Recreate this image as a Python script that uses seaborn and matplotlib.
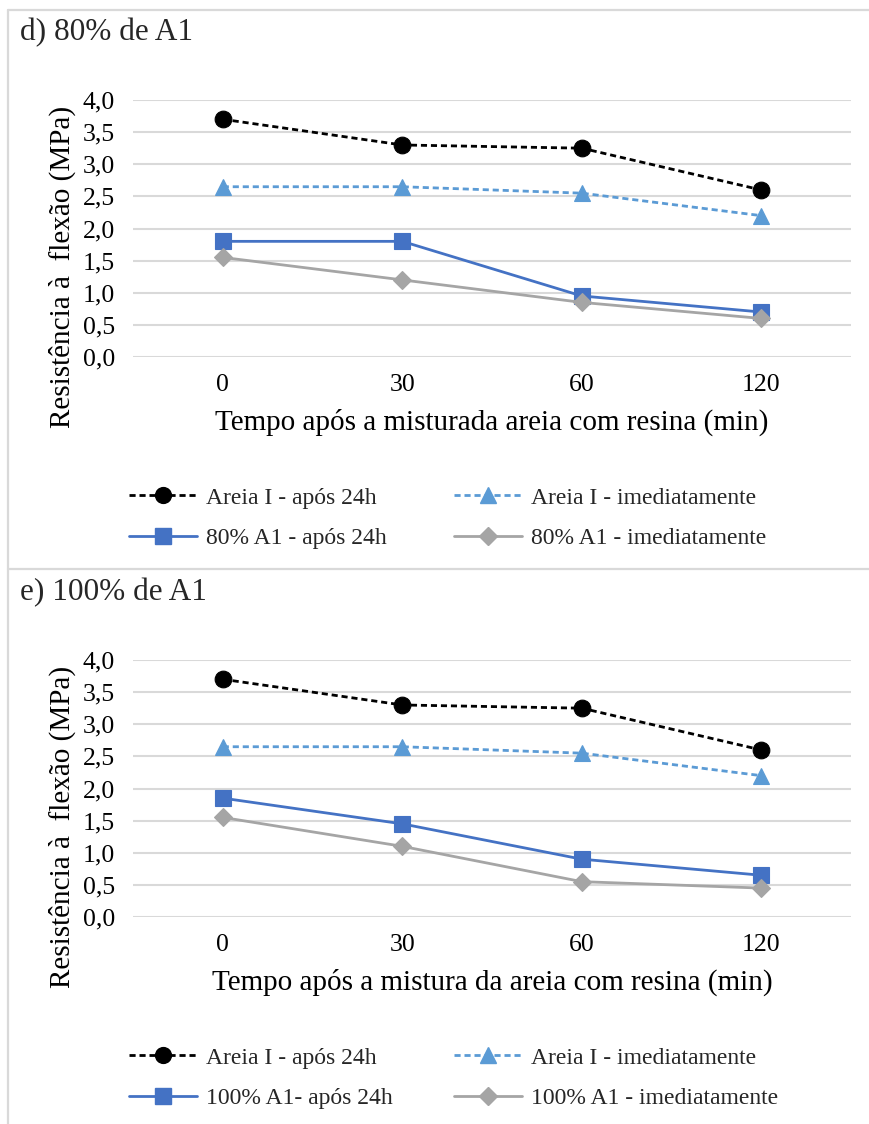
import matplotlib
matplotlib.use("Agg")
import matplotlib.pyplot as plt
import seaborn as sns
import pandas as pd
from matplotlib.lines import Line2D

sns.set_theme(style="white")
plt.rcParams['font.family'] = ['Liberation Serif', 'DejaVu Serif']

# ---- data ----
tempos = ["0", "30", "60", "120"]
areia_24h = [3.7, 3.3, 3.25, 2.6]
areia_imed = [2.65, 2.65, 2.55, 2.2]
a80_24h = [1.8, 1.8, 0.95, 0.7]
a80_imed = [1.55, 1.2, 0.85, 0.6]
a100_24h = [1.85, 1.45, 0.9, 0.65]
a100_imed = [1.55, 1.1, 0.55, 0.45]
yticks = [0.0, 0.5, 1.0, 1.5, 2.0, 2.5, 3.0, 3.5, 4.0]

panels = [
    dict(title="d) 80% de A1",
         xlabel="Tempo após a misturada areia com resina (min)",
         series=[("Areia I - após 24h", areia_24h),
                 ("Areia I - imediatamente", areia_imed),
                 ("80% A1 - após 24h", a80_24h),
                 ("80% A1 - imediatamente", a80_imed)],
         off=0),
    dict(title="e) 100% de A1",
         xlabel="Tempo após a mistura da areia com resina (min)",
         series=[("Areia I - após 24h", areia_24h),
                 ("Areia I - imediatamente", areia_imed),
                 ("100% A1- após 24h", a100_24h),
                 ("100% A1 - imediatamente", a100_imed)],
         off=560),
]

styles = [
    dict(color="black", marker="o", ls=(0, (2.2, 1.4)), ms=12),
    dict(color="#5B9BD5", marker="^", ls=(0, (2.2, 1.4)), ms=11.5),
    dict(color="#4472C4", marker="s", ls="-", ms=12),
    dict(color="#A5A5A5", marker="D", ls="-", ms=9.5),
]

W, H = 869, 1124
fig = plt.figure(figsize=(W / 100, H / 100), dpi=100)

def fx(px):
    return px / W

def fy(py):
    return 1 - py / H

# panel borders
border_col = "#D9D9D9"
fig.add_artist(Line2D([fx(8), fx(8)], [fy(10), fy(1124)], color=border_col, lw=1.6))
fig.add_artist(Line2D([fx(8), 1], [fy(10), fy(10)], color=border_col, lw=1.6))
fig.add_artist(Line2D([fx(8), 1], [fy(569), fy(569)], color=border_col, lw=1.6))

for p in panels:
    off = p["off"]
    top, bot = 100 + off, 357 + off
    ax = fig.add_axes([fx(133), fy(bot), fx(851) - fx(133), (bot - top) / H])
    handles = []
    for (name, vals), st in zip(p["series"], styles):
        df = pd.DataFrame({"Tempo": tempos, "Valor": vals})
        sns.lineplot(data=df, x="Tempo", y="Valor", ax=ax, color=st["color"],
                     marker=st["marker"], markersize=st["ms"], linewidth=2.0,
                     linestyle=st["ls"], markeredgecolor=st["color"],
                     markeredgewidth=0.8, sort=False, zorder=3)
        handles.append(Line2D([], [], color=st["color"], marker=st["marker"],
                              markersize=st["ms"] * 0.95, linewidth=2.0,
                              linestyle=st["ls"], markeredgecolor=st["color"],
                              label=name))
    ax.set_xlim(-0.5, 3.5)
    ax.set_ylim(0, 4.0)
    ax.set_yticks(yticks)
    ax.set_yticklabels([f"{v:.1f}".replace(".", ",") for v in yticks])
    ax.grid(axis="y", color="#D9D9D9", lw=1.5)
    ax.grid(axis="x", visible=False)
    for s in ax.spines.values():
        s.set_visible(False)
    ax.tick_params(axis="both", length=0, labelsize=18.5, colors="black")
    ax.tick_params(axis="y", pad=13)
    ax.tick_params(axis="x", pad=12)
    ax.set_xlabel(p["xlabel"], fontsize=21, color="black")
    ax.xaxis.set_label_coords(0.5, -0.2)
    ax.set_ylabel("Resistência à  flexão (MPa)", fontsize=21, color="black")
    ax.yaxis.set_label_coords(-0.08, 0.35)
    fig.text(fx(20), fy(33 + off), p["title"], fontsize=22.5, va="center", ha="left")
    common = dict(loc="center left", frameon=False, fontsize=17,
                  handlelength=2.9, handletextpad=0.35, labelspacing=0.8,
                  borderpad=0, borderaxespad=0)
    fig.legend(handles=[handles[0], handles[2]],
               bbox_to_anchor=(fx(129), fy(518 + off)), **common)
    fig.legend(handles=[handles[1], handles[3]],
               bbox_to_anchor=(fx(454), fy(518 + off)), **common)

fig.savefig("out.png", dpi=100)
